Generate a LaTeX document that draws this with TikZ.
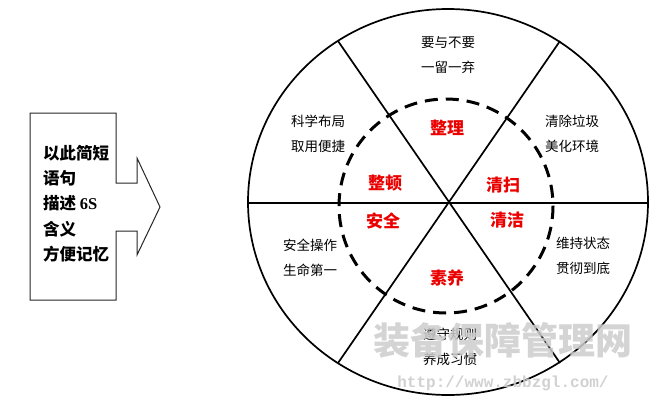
\documentclass[tikz,border=0pt]{standalone}
\usepackage{fontspec}
\newfontfamily\cjk{Noto Sans CJK SC}
\newfontfamily\serifnum{Liberation Serif}
\newfontfamily\wmmono{Liberation Mono}
\definecolor{wmgray}{RGB}{205,205,205}
\definecolor{lblred}{RGB}{235,0,0}
\tikzset{
  outertxt/.style={font=\cjk\fontsize{13.5}{25}\selectfont, align=center, inner sep=0pt},
  redlbl/.style={font=\cjk\bfseries\fontsize{17}{20}\selectfont, text=lblred, inner sep=0pt},
  lefttxt/.style={font=\cjk\bfseries\fontsize{16.5}{25.2}\selectfont, align=left, inner sep=0pt, anchor=north west},
  wheel/.style={line width=1.7pt, black},
  dashring/.style={line width=3pt, dash pattern=on 13pt off 8pt, black},
  arrowbox/.style={line width=1pt, black!85}
}
\begin{document}
\begin{tikzpicture}[x=1pt,y=-1pt]
\useasboundingbox (0,0) rectangle (655,404);
\fill[white] (0,0) rectangle (655,404);

% left arrow-shaped box
\draw[arrowbox] (30,113) -- (116,113) -- (116,183) -- (137,183) -- (137,158)
  -- (160,207) -- (137,255) -- (137,231) -- (116,231) -- (116,300) -- (30,300) -- cycle;
\node[lefttxt] (lt) at (43,145) {以此简短\\语句\\描述 {\serifnum\bfseries 6S}\\含义\\方便记忆};

% wheel
\coordinate (c) at (449,202);
\coordinate (ul) at (338,41);
\coordinate (ur) at (560,41);
\coordinate (ll) at (338,363);
\coordinate (lr) at (560,363);
\coordinate (hl) at (248,203);
\coordinate (hr) at (648,203);
\draw[wheel] (448,202) ellipse [x radius=200, y radius=193];
\draw[wheel] (ul) -- (c) -- (lr);
\draw[wheel] (ur) -- (c) -- (ll);
\draw[wheel] (hl) -- (hr);
\draw[dashring] (446,206) circle [radius=107];

% outer texts
\node[outertxt] (t1) at (448,55.5) {要与不要\\一留一弃};
\node[outertxt] (t2) at (318,134) {科学布局\\取用便捷};
\node[outertxt] (t3) at (572,134) {清除垃圾\\美化环境};
\node[outertxt] (t4) at (310,257.5) {安全操作\\生命第一};
\node[outertxt] (t5) at (583,255.5) {维持状态\\贯彻到底};
\node[outertxt] (t6) at (450,346.5) {遵守规则\\养成习惯};

% red labels
\node[redlbl] (r1) at (447,128) {整理};
\node[redlbl] (r2) at (385,183) {整顿};
\node[redlbl] (r3) at (503,185) {清扫};
\node[redlbl] (r4) at (383,221) {安全};
\node[redlbl] (r5) at (507,220) {清洁};
\node[redlbl] (r6) at (447,278) {素养};

% watermark
\node[font=\cjk\bfseries\fontsize{37}{40}\selectfont, text=wmgray, opacity=0.85, inner sep=0pt] (wm) at (503,340) {装备保障管理网};
\node[font=\wmmono\bfseries\fontsize{16}{18}\selectfont, text=wmgray, opacity=0.9, inner sep=0pt] (url) at (503,383) {http://www.zbbzgl.com/};
\end{tikzpicture}
\end{document}
